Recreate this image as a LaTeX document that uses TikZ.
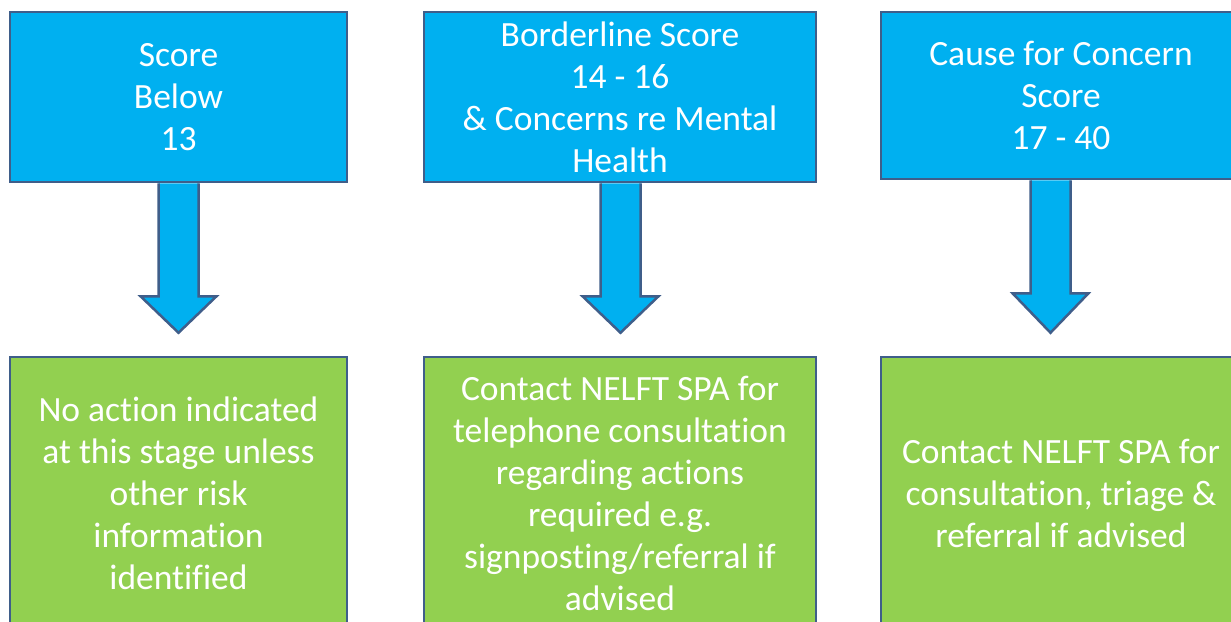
\documentclass[tikz,border=0pt]{standalone}
\usepackage{fontspec}
\setmainfont[Ligatures={NoCommon,NoContextual}]{Carlito}
\usetikzlibrary{calc}
\definecolor{boxblue}{RGB}{0,176,240}
\definecolor{boxgreen}{RGB}{146,208,80}
\definecolor{edgeblue}{RGB}{63,94,138}
\tikzset{
  basebox/.style={draw=edgeblue, line width=2.5pt, inner sep=0pt, align=center,
    text=white, font=\fontsize{35.5}{42}\selectfont},
  bluebox/.style={basebox, fill=boxblue},
  greenbox/.style={basebox, fill=boxgreen},
  blockarrow/.style={draw=edgeblue, line width=2.5pt, fill=boxblue, line join=miter}
}
\begin{document}
\begin{tikzpicture}[x=1pt,y=-1pt]
\useasboundingbox (0,0) rectangle (1231,621);
\clip (0,0) rectangle (1231,621);
\fill[white] (0,0) rectangle (1231,621);
% top boxes
\node[bluebox, minimum width=337, minimum height=170] (t1) at (178.5,97) {Score\\Below\\13};
\node[bluebox, minimum width=392, minimum height=170] (t2) at (620,97) {Borderline Score\\14 - 16\\\& Concerns re Mental\\Health};
\node[bluebox, minimum width=360, minimum height=167] (t3) at (1061,95.5) {Cause for Concern\\Score\\17 - 40};
% bottom boxes
\node[greenbox, minimum width=337, minimum height=272] (b1) at (178.5,493) {No action indicated\\at this stage unless\\other risk\\information\\identified};
\node[greenbox, minimum width=392, minimum height=272] (b2) at (620,493) {Contact NELFT SPA for\\telephone consultation\\regarding actions\\required e.g.\\signposting/referral if\\advised};
\node[greenbox, minimum width=360, minimum height=272] (b3) at (1061,493) {Contact NELFT SPA for\\consultation, triage \&\\referral if advised};
% block arrows
\foreach \t/\b/\cx in {t1/b1/178.5, t2/b2/620.5, t3/b3/1050.5} {
  \coordinate (top\t) at (\cx,0 |- \t.south);
  \coordinate (tip\t) at ($(\cx,0 |- \b.north)+(0,-23)$);
  \draw[blockarrow]
    ($(top\t)+(-20,0)$) -- ($(top\t)+(-20,113)$) -- ($(top\t)+(-38,113)$)
    -- (tip\t) -- ($(top\t)+(38,113)$) -- ($(top\t)+(20,113)$) -- ($(top\t)+(20,0)$);
}
\end{tikzpicture}
\end{document}
